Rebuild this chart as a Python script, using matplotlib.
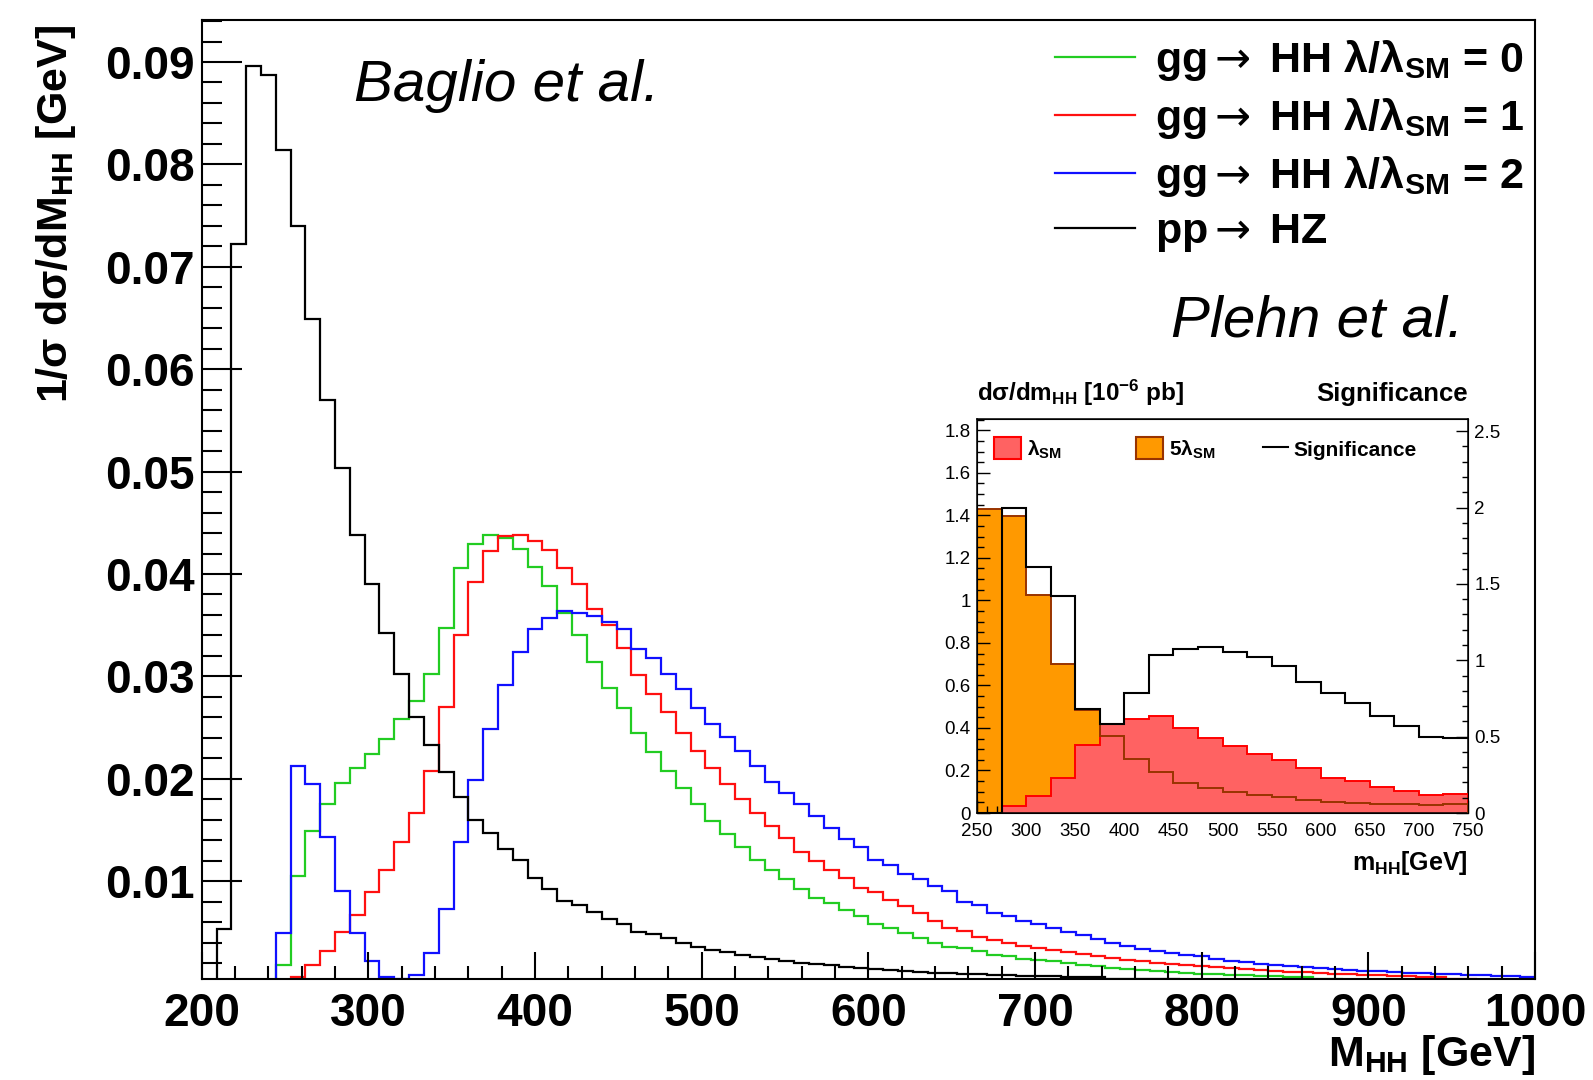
import numpy as np
import matplotlib
matplotlib.use("Agg")
import matplotlib.pyplot as plt
from matplotlib.patches import Patch
from matplotlib.lines import Line2D
from matplotlib.legend import Legend
from matplotlib.ticker import MultipleLocator

plt.rcParams['font.family'] = ['Liberation Sans', 'DejaVu Sans']
plt.rcParams['mathtext.fontset'] = 'custom'
plt.rcParams['mathtext.rm'] = 'Liberation Sans'
plt.rcParams['mathtext.bf'] = 'Liberation Sans:bold'
plt.rcParams['mathtext.it'] = 'Liberation Sans:italic'
plt.rcParams['mathtext.sf'] = 'Liberation Sans'
plt.rcParams['mathtext.tt'] = 'DejaVu Sans'   # thin arrow glyph

# ---------------- main panel: normalised M_HH spectra ----------------
# 90 equal-width bins between 200 and 1000 GeV
mhh_lo, mhh_hi, n_bins = 200, 1000, 90

pp_hz = [0, 0.0053, 0.0722, 0.0896, 0.0887, 0.0814, 0.0740, 0.0649, 0.0570, 0.0504,
         0.0438, 0.0390, 0.0342, 0.0302, 0.0260, 0.0233, 0.0207, 0.0182, 0.0160, 0.0147,
         0.0131, 0.0121, 0.0103, 0.0092, 0.0081, 0.0077, 0.0070, 0.0063, 0.0058, 0.0050,
         0.0048, 0.0045, 0.0040, 0.0036, 0.0033, 0.0031, 0.0028, 0.0026, 0.0024, 0.0022,
         0.0020, 0.0019, 0.0018, 0.0016, 0.0015, 0.0014, 0.0013, 0.0012, 0.0011, 0.0010,
         0.0010, 0.0009, 0.0009, 0.0008, 0.0008, 0.0007, 0.0007, 0.0007, 0.0006, 0.0006,
         0.0006, 0.0005, 0.0005, 0.0005, 0.0005, 0.0005, 0.0004, 0.0004, 0.0004, 0.0004,
         0.0004, 0.0003, 0.0003, 0.0003, 0.0003, 0.0003, 0.0003, 0.0003, 0.0002, 0.0002,
         0.0002, 0.0002, 0.0002, 0.0002, 0.0002, 0.0002, 0.0002, 0.0001, 0.0001, 0.0001]

gg_hh_l0 = [0, 0, 0, 0, 0, 0.0018, 0.0105, 0.0149, 0.0175, 0.0196,
            0.0211, 0.0224, 0.0239, 0.0258, 0.0276, 0.0302, 0.0347, 0.0406, 0.0429, 0.0438,
            0.0435, 0.0424, 0.0407, 0.0388, 0.0362, 0.0340, 0.0314, 0.0289, 0.0269, 0.0245,
            0.0226, 0.0208, 0.0191, 0.0175, 0.0159, 0.0146, 0.0133, 0.0121, 0.0111, 0.0102,
            0.0092, 0.0084, 0.0079, 0.0072, 0.0066, 0.0058, 0.0054, 0.0049, 0.0045, 0.0040,
            0.0036, 0.0035, 0.0032, 0.0028, 0.0027, 0.0024, 0.0023, 0.0022, 0.0020, 0.0018,
            0.0017, 0.0015, 0.0014, 0.0013, 0.0012, 0.0011, 0.0010, 0.0009, 0.0009, 0.0008,
            0.0008, 0.0007, 0.0007, 0.0006, 0.0006, 0.0005, 0.0005, 0.0004, 0.0004, 0.0004,
            0.0003, 0.0003, 0.0003, 0.0003, 0.0002, 0.0002, 0.0002, 0.0002, 0.0002, 0.0002]

gg_hh_l1 = [0, 0, 0, 0, 0, 0, 0.0006, 0.0018, 0.0032, 0.0050,
            0.0067, 0.0089, 0.0111, 0.0138, 0.0167, 0.0208, 0.0270, 0.0340, 0.0392, 0.0422,
            0.0437, 0.0438, 0.0432, 0.0423, 0.0406, 0.0390, 0.0366, 0.0350, 0.0328, 0.0301,
            0.0283, 0.0265, 0.0245, 0.0227, 0.0211, 0.0195, 0.0180, 0.0167, 0.0154, 0.0142,
            0.0129, 0.0120, 0.0111, 0.0103, 0.0093, 0.0089, 0.0082, 0.0076, 0.0069, 0.0061,
            0.0054, 0.0051, 0.0046, 0.0043, 0.0040, 0.0037, 0.0035, 0.0033, 0.0031, 0.0029,
            0.0027, 0.0025, 0.0023, 0.0022, 0.0020, 0.0019, 0.0018, 0.0017, 0.0016, 0.0015,
            0.0014, 0.0013, 0.0012, 0.0011, 0.0011, 0.0010, 0.0009, 0.0009, 0.0008, 0.0008,
            0.0007, 0.0007, 0.0006, 0.0006, 0.0005, 0.0005, 0.0004, 0.0004, 0.0004, 0.0004]

gg_hh_l2 = [0, 0, 0, 0, 0, 0.0049, 0.0213, 0.0195, 0.0143, 0.0090,
            0.0049, 0.0022, 0.0006, 0.0005, 0.0008, 0.0030, 0.0073, 0.0138, 0.0199, 0.0249,
            0.0292, 0.0324, 0.0346, 0.0357, 0.0364, 0.0362, 0.0359, 0.0353, 0.0346, 0.0327,
            0.0318, 0.0302, 0.0288, 0.0269, 0.0254, 0.0241, 0.0227, 0.0213, 0.0197, 0.0186,
            0.0175, 0.0164, 0.0152, 0.0141, 0.0133, 0.0121, 0.0116, 0.0107, 0.0102, 0.0095,
            0.0090, 0.0080, 0.0077, 0.0069, 0.0066, 0.0061, 0.0058, 0.0054, 0.0050, 0.0047,
            0.0044, 0.0040, 0.0037, 0.0034, 0.0032, 0.0030, 0.0028, 0.0027, 0.0024, 0.0022,
            0.0021, 0.0019, 0.0018, 0.0017, 0.0016, 0.0015, 0.0014, 0.0013, 0.0012, 0.0012,
            0.0011, 0.0010, 0.0010, 0.0009, 0.0009, 0.0008, 0.0008, 0.0007, 0.0007, 0.0006]

arrow = r"$\mathtt{\rightarrow}$"
main_labels = [r"gg" + arrow + r" HH $\mathbf{\lambda/\lambda_{SM}}$ = 0",
               r"gg" + arrow + r" HH $\mathbf{\lambda/\lambda_{SM}}$ = 1",
               r"gg" + arrow + r" HH $\mathbf{\lambda/\lambda_{SM}}$ = 2",
               r"pp" + arrow + r" HZ"]
main_colors = ["#22cc22", "#ff1010", "#1010ff", "black"]

x_ticks = [200, 300, 400, 500, 600, 700, 800, 900, 1000]
y_ticks = [0.01, 0.02, 0.03, 0.04, 0.05, 0.06, 0.07, 0.08, 0.09]

# ---------------- inset: dsigma/dm_HH and significance ----------------
inset_lo, inset_hi, inset_bins = 250, 750, 20
lam_sm = [0.0, 0.035, 0.082, 0.165, 0.322, 0.420, 0.443, 0.454, 0.400, 0.352,
          0.314, 0.278, 0.250, 0.210, 0.166, 0.152, 0.124, 0.104, 0.084, 0.091]
lam_5sm = [1.431, 1.398, 1.025, 0.703, 0.486, 0.362, 0.255, 0.195, 0.143, 0.116,
           0.097, 0.085, 0.073, 0.063, 0.052, 0.048, 0.044, 0.040, 0.037, 0.040]
significance = [0.0, 1.996, 1.612, 1.423, 0.678, 0.581, 0.789, 1.035, 1.075, 1.086,
                1.057, 1.020, 0.963, 0.855, 0.786, 0.722, 0.633, 0.570, 0.497, 0.492]

inset_x_ticks = [250, 300, 350, 400, 450, 500, 550, 600, 650, 700, 750]
inset_y_ticks = [0, 0.2, 0.4, 0.6, 0.8, 1.0, 1.2, 1.4, 1.6, 1.8]
inset_y_labels = ["0", "0.2", "0.4", "0.6", "0.8", "1", "1.2", "1.4", "1.6", "1.8"]
sig_ticks = [0, 0.5, 1.0, 1.5, 2.0, 2.5]
sig_labels = ["0", "0.5", "1", "1.5", "2", "2.5"]

W, H = 1593, 1080
fig = plt.figure(figsize=(W / 100, H / 100), dpi=100)
fig.patch.set_facecolor("white")

# ---- main axes ----
ax = fig.add_axes([201.7 / W, 1 - 978.5 / H, (1535 - 201.7) / W, (978.5 - 20) / H])
edges = np.linspace(mhh_lo, mhh_hi, n_bins + 1)
for vals, col in zip([gg_hh_l0, gg_hh_l1, gg_hh_l2, pp_hz], main_colors):
    ax.stairs(vals, edges, color=col, lw=1.6, baseline=None)

ax.set_xlim(mhh_lo, mhh_hi)
ax.set_ylim(0.0005, 0.0941)
ax.set_xticks(x_ticks)
ax.set_xticklabels([str(v) for v in x_ticks], fontsize=33, fontweight="bold")
ax.set_yticks(y_ticks)
ax.set_yticklabels([f"{v:.2f}" for v in y_ticks], fontsize=33, fontweight="bold")
ax.xaxis.set_minor_locator(MultipleLocator(20))
ax.yaxis.set_minor_locator(MultipleLocator(0.002))
ax.tick_params(which="both", direction="in", top=False, right=False, width=1.5)
ax.tick_params(axis="y", which="major", length=29, pad=5)
ax.tick_params(axis="y", which="minor", length=14.5)
ax.tick_params(axis="x", which="major", length=19.5, pad=9.5)
ax.tick_params(axis="x", which="minor", length=9.5)
for sp in ax.spines.values():
    sp.set_linewidth(1.5)

handles = [Line2D([], [], color=c, lw=1.6) for c in main_colors]
ax.legend(handles, main_labels, loc="upper left",
          bbox_to_anchor=(1054.6 / W, 1 - 38 / H), bbox_transform=fig.transFigure,
          frameon=False, prop={"size": 31, "weight": "bold"},
          handlelength=1.87, handletextpad=0.47, labelspacing=0.3,
          borderpad=0, borderaxespad=0)

fig.text(56 / W, 1 - 25 / H, r"1/σ dσ/d$\mathbf{M_{HH}}$ [GeV]", rotation=90,
         ha="center", va="top", fontsize=31, fontweight="bold")
fig.text(1535 / W, 1 - 1066 / H, r"$\mathbf{M_{HH}}$ [GeV]", ha="right",
         va="baseline", fontsize=31, fontweight="bold")
fig.text(354 / W, 1 - 86 / H, "Baglio et al.", ha="left", va="center",
         fontsize=42, style="italic")
fig.text(1171 / W, 1 - 321 / H, "Plehn et al.", ha="left", va="center",
         fontsize=42, style="italic")

# ---- inset axes ----
ax_in = fig.add_axes([977 / W, 1 - 813 / H, (1468 - 977) / W, (813 - 419) / H])
ax_in.set_facecolor("white")
edges_in = np.linspace(inset_lo, inset_hi, inset_bins + 1)
orange, orange_edge = "#ff9900", "#993300"
red_fill, red_edge = "#ff6262", "#ff0000"
ax_in.stairs(lam_5sm, edges_in, fill=True, color=orange, zorder=1)
ax_in.stairs(lam_sm, edges_in, fill=True, color=red_fill, zorder=2)
ax_in.stairs(lam_sm, edges_in, color=red_edge, lw=1.4, baseline=0, zorder=3)
ax_in.stairs(lam_5sm, edges_in, color=orange_edge, lw=1.4, baseline=0, zorder=4)
ax_in.set_xlim(inset_lo, inset_hi)
ax_in.set_ylim(0, 1.853)
ax_in.set_xticks(inset_x_ticks)
ax_in.set_xticklabels([str(v) for v in inset_x_ticks], fontsize=13.5)
ax_in.set_yticks(inset_y_ticks)
ax_in.set_yticklabels(inset_y_labels, fontsize=13.5)
ax_in.xaxis.set_minor_locator(MultipleLocator(10))
ax_in.yaxis.set_minor_locator(MultipleLocator(0.05))
ax_in.tick_params(which="both", direction="in", top=False, right=False, width=1.0)
ax_in.tick_params(which="major", length=9.5)
ax_in.tick_params(axis="y", which="major", pad=4.5)
ax_in.tick_params(axis="x", which="major", pad=7.5)
ax_in.tick_params(which="minor", length=5)
for sp in ax_in.spines.values():
    sp.set_linewidth(1.1)

ax_sig = ax_in.twinx()
ax_sig.stairs(significance, edges_in, color="black", lw=1.5, baseline=None, zorder=5)
ax_sig.set_ylim(0, 2.58)
ax_sig.set_yticks(sig_ticks)
ax_sig.set_yticklabels(sig_labels, fontsize=13.5)
ax_sig.yaxis.set_minor_locator(MultipleLocator(0.1))
ax_sig.tick_params(which="both", direction="in", left=False, width=1.0)
ax_sig.tick_params(which="major", length=9, pad=4.5)
ax_sig.tick_params(which="minor", length=4.5)

ax_in.text(0, 1.045, r"dσ/d$\mathbf{m_{HH}}$ [$\mathbf{10^{-6}}$ pb]",
           transform=ax_in.transAxes, ha="left", va="baseline",
           fontsize=17.5, fontweight="bold")
ax_in.text(1.0, 1.045, "Significance", transform=ax_in.transAxes, ha="right",
           va="baseline", fontsize=18.5, fontweight="bold")
ax_in.text(1.0, -0.1447, r"$\mathbf{m_{HH}}$[GeV]", transform=ax_in.transAxes,
           ha="right", va="baseline", fontsize=18, fontweight="bold")

# inset legend entries, one small legend each
leg_specs = [
    (Patch(facecolor=red_fill, edgecolor=red_edge, lw=1.5), r"$\mathbf{\lambda_{SM}}$", 994, 1.3),
    (Patch(facecolor=orange, edgecolor=orange_edge, lw=1.5), r"5$\mathbf{\lambda_{SM}}$", 1136, 1.3),
    (Line2D([], [], color="black", lw=1.5), "Significance", 1263, 1.2),
]
for h, lab, x0, hl in leg_specs:
    lg = Legend(ax_sig, [h], [lab], loc="center left",
                bbox_to_anchor=(x0 / W, 1 - 449 / H), bbox_transform=fig.transFigure,
                frameon=False, prop={"size": 15, "weight": "bold"},
                handlelength=hl, handleheight=1.2, handletextpad=0.28,
                borderpad=0, borderaxespad=0)
    ax_sig.add_artist(lg)

fig.savefig("out.png", dpi=100, facecolor="white")
